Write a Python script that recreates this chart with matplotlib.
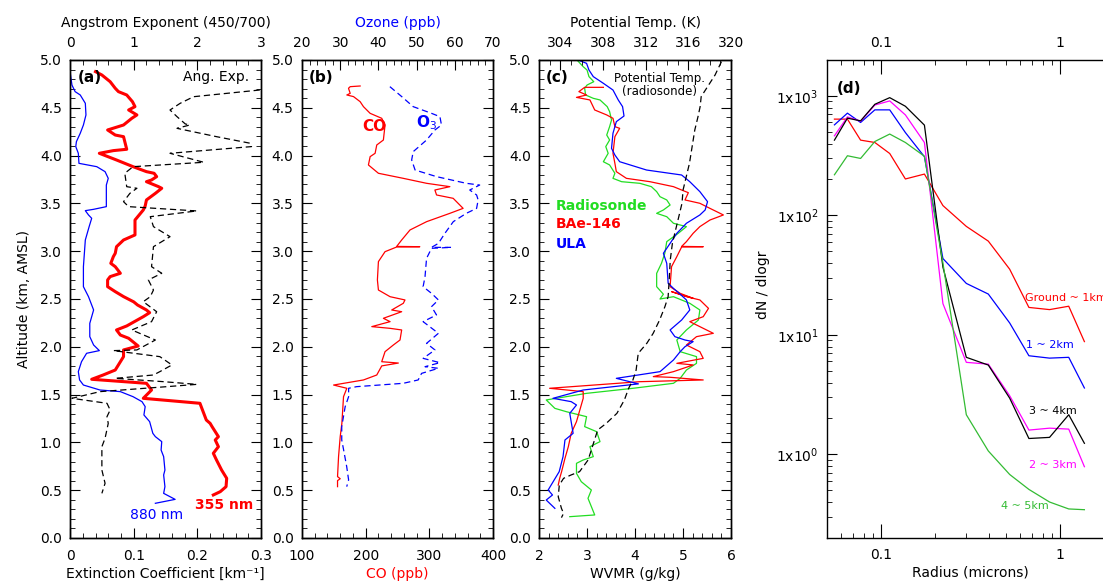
import matplotlib
matplotlib.use("Agg")
import matplotlib.pyplot as plt
from matplotlib.ticker import MultipleLocator, FixedLocator, FuncFormatter, LogLocator, NullFormatter

# ---------------- data: panel (a) ----------------
ext355 = [0.040, 0.050, 0.063, 0.071, 0.076, 0.089, 0.098, 0.102, 0.092, 0.105, 0.097, 0.084, 0.059,
          0.071, 0.084, 0.089, 0.068, 0.046, 0.073, 0.099, 0.120, 0.132, 0.136, 0.128, 0.120, 0.139,
          0.144, 0.134, 0.120, 0.118, 0.115, 0.102, 0.102, 0.102, 0.084, 0.073, 0.071, 0.068, 0.064,
          0.071, 0.079, 0.063, 0.059, 0.059, 0.071, 0.084, 0.100, 0.106, 0.120, 0.125, 0.115, 0.089,
          0.073, 0.079, 0.092, 0.107, 0.084, 0.084, 0.071, 0.052, 0.034, 0.120, 0.128, 0.115, 0.204,
          0.207, 0.214, 0.220, 0.223, 0.233, 0.228, 0.233, 0.225, 0.230, 0.238, 0.246, 0.245, 0.236,
          0.225]
alt355 = [4.878, 4.843, 4.773, 4.704, 4.669, 4.634, 4.564, 4.512, 4.477, 4.425, 4.390, 4.320, 4.268,
          4.215, 4.198, 4.066, 4.052, 4.024, 3.954, 3.884, 3.832, 3.815, 3.780, 3.745, 3.727, 3.675,
          3.658, 3.605, 3.536, 3.473, 3.431, 3.326, 3.222, 3.170, 3.117, 3.047, 2.978, 2.943, 2.873,
          2.838, 2.769, 2.734, 2.699, 2.629, 2.577, 2.525, 2.470, 2.437, 2.385, 2.357, 2.315, 2.218,
          2.176, 2.123, 2.089, 2.008, 1.967, 1.897, 1.757, 1.705, 1.660, 1.618, 1.548, 1.461, 1.409,
          1.356, 1.234, 1.199, 1.165, 1.060, 1.025, 0.955, 0.886, 0.816, 0.711, 0.624, 0.537, 0.485,
          0.450]

ext880 = [0.000, 0.003, 0.008, 0.016, 0.024, 0.025, 0.021, 0.016, 0.010, 0.009, 0.013, 0.014, 0.042,
          0.055, 0.060, 0.057, 0.057, 0.037, 0.024, 0.029, 0.034, 0.030, 0.024, 0.021, 0.021, 0.029,
          0.037, 0.031, 0.031, 0.037, 0.046, 0.026, 0.018, 0.013, 0.015, 0.021, 0.047, 0.079, 0.099,
          0.113, 0.118, 0.116, 0.125, 0.130, 0.134, 0.144, 0.143, 0.147, 0.149, 0.147, 0.149, 0.147,
          0.165, 0.134]
alt880 = [4.878, 4.738, 4.669, 4.634, 4.547, 4.425, 4.320, 4.233, 4.146, 4.094, 4.024, 3.919, 3.884,
          3.832, 3.762, 3.692, 3.466, 3.438, 3.424, 3.379, 3.344, 3.257, 3.117, 2.838, 2.629, 2.524,
          2.385, 2.245, 2.106, 2.019, 1.960, 1.932, 1.844, 1.740, 1.653, 1.600, 1.548, 1.531, 1.478,
          1.426, 1.374, 1.287, 1.217, 1.095, 1.060, 1.008, 0.920, 0.851, 0.711, 0.659, 0.537, 0.467,
          0.404, 0.363]

ang_exp = [2.98, 1.94, 1.73, 1.57, 1.68, 1.81, 1.88, 1.68, 2.30, 2.83, 2.85, 1.57, 2.10, 0.99, 0.86,
           0.89, 1.05, 0.94, 0.84, 0.92, 1.99, 1.26, 1.31, 1.57, 1.31, 1.28, 1.44, 1.23, 1.31, 1.26,
           1.15, 1.36, 1.28, 0.97, 1.34, 1.05, 0.68, 1.41, 1.60, 1.41, 1.31, 0.71, 1.47, 1.99, 1.52,
           0.47, 0.03, 0.58, 0.63, 0.58, 0.60, 0.55, 0.50, 0.50, 0.55, 0.50]
alt_ang = [4.686, 4.616, 4.547, 4.477, 4.407, 4.331, 4.320, 4.285, 4.198, 4.129, 4.094, 4.024, 3.930,
           3.884, 3.815, 3.675, 3.658, 3.605, 3.518, 3.466, 3.421, 3.361, 3.257, 3.152, 3.047, 2.838,
           2.769, 2.699, 2.594, 2.524, 2.472, 2.367, 2.263, 2.176, 2.071, 1.967, 1.960, 1.897, 1.810,
           1.740, 1.705, 1.670, 1.635, 1.607, 1.583, 1.531, 1.461, 1.409, 1.339, 1.269, 1.199, 1.043,
           0.955, 0.711, 0.572, 0.467]

# ---------------- data: panel (b) ----------------
co_ppb = [191.3, 175.7, 173.0, 175.7, 170.4, 180.9, 191.3, 196.5, 207.0, 225.2, 230.4, 227.8, 217.4,
          214.8, 207.0, 204.3, 220.0, 259.1, 295.7, 332.2, 308.7, 311.3, 337.4, 353.0, 332.2, 295.7,
          269.6, 256.5, 248.7, 285.0, 248.7, 230.4, 220.0, 218.4, 220.0, 238.3, 261.7, 259.1, 240.9,
          256.5, 227.8, 238.3, 209.6, 238.3, 256.5, 253.9, 243.5, 230.4, 225.2, 251.3, 225.2, 217.4,
          196.5, 149.6, 170.4, 165.2, 162.6, 160.0, 157.4, 155.8, 160.0, 155.8, 155.8]
alt_co = [4.728, 4.721, 4.704, 4.651, 4.634, 4.617, 4.564, 4.512, 4.442, 4.390, 4.320, 4.163, 4.111,
          4.024, 3.989, 3.902, 3.815, 3.762, 3.710, 3.675, 3.640, 3.588, 3.553, 3.448, 3.396, 3.309,
          3.222, 3.117, 3.050, 3.047, 3.044, 2.995, 2.891, 2.699, 2.594, 2.524, 2.490, 2.455, 2.385,
          2.367, 2.298, 2.263, 2.211, 2.193, 2.176, 2.071, 2.019, 1.949, 1.844, 1.830, 1.800, 1.705,
          1.653, 1.600, 1.566, 1.478, 1.199, 1.060, 0.851, 0.642, 0.620, 0.600, 0.537]

ozone = [43.0, 46.1, 49.1, 53.9, 56.1, 56.5, 54.8, 52.6, 49.1, 48.7, 49.6, 55.2, 63.0, 66.5, 63.9,
         65.7, 66.1, 65.7, 63.0, 59.6, 57.4, 55.7, 53.9, 59.1, 53.9, 52.6, 52.2, 51.7, 53.9, 55.7,
         53.9, 55.2, 51.7, 55.7, 52.6, 54.8, 51.7, 56.1, 52.2, 55.7, 51.3, 50.4, 46.5, 34.3, 32.2,
         32.2, 31.3, 30.4, 30.4, 30.9, 31.7, 32.2, 31.7]
alt_o3 = [4.721, 4.617, 4.512, 4.442, 4.407, 4.320, 4.268, 4.163, 4.041, 3.954, 3.849, 3.780, 3.710,
          3.692, 3.640, 3.588, 3.536, 3.448, 3.396, 3.309, 3.187, 3.082, 3.040, 3.040, 3.030, 2.925,
          2.734, 2.629, 2.559, 2.490, 2.420, 2.333, 2.263, 2.141, 2.036, 1.967, 1.879, 1.834, 1.792,
          1.775, 1.722, 1.653, 1.618, 1.583, 1.566, 1.478, 1.374, 1.165, 1.025, 0.920, 0.746, 0.607,
          0.537]

# ---------------- data: panel (c) ----------------
theta = [319.1, 318.5, 317.7, 317.2, 317.1, 316.9, 316.6, 316.3, 316.1, 315.8, 315.5, 315.4, 315.1,
         314.8, 314.5, 314.3, 314.2, 314.1, 313.8, 313.3, 312.7, 312.1, 311.3, 311.1, 310.8, 310.4,
         310.0, 309.3, 308.3, 307.5, 307.2, 306.9, 306.6, 305.8, 305.0, 304.3, 303.9, 303.8, 304.1,
         304.3, 304.1]
alt_theta = [4.983, 4.843, 4.704, 4.617, 4.512, 4.407, 4.268, 4.059, 3.919, 3.780, 3.640, 3.501, 3.361,
             3.222, 3.082, 2.908, 2.699, 2.524, 2.420, 2.280, 2.141, 2.036, 1.932, 1.757, 1.653, 1.566,
             1.444, 1.304, 1.199, 1.130, 1.025, 0.920, 0.816, 0.694, 0.659, 0.624, 0.554, 0.432, 0.310,
             0.258, 0.213]

wv_sonde = [2.79, 2.92, 3.00, 3.04, 3.14, 3.00, 2.95, 2.97, 3.13, 3.27, 3.42, 3.47, 3.51, 3.47, 3.41,
            3.47, 3.39, 3.44, 3.34, 3.47, 3.58, 3.54, 3.72, 4.10, 4.34, 4.45, 4.52, 4.66, 4.73, 4.59,
            4.45, 4.66, 4.80, 5.07, 4.90, 4.66, 4.62, 4.55, 4.45, 4.45, 4.59, 4.52, 4.80, 5.14, 5.35,
            5.32, 5.07, 4.87, 4.94, 5.28, 5.28, 5.07, 4.94, 4.80, 3.96, 2.99, 2.15, 2.33, 2.57, 2.99,
            2.95, 3.20, 3.27, 3.06, 3.13, 2.92, 2.78, 2.78, 2.88, 3.09, 3.02, 3.16, 2.64]
alt_sonde = [5.000, 4.930, 4.895, 4.826, 4.773, 4.738, 4.704, 4.634, 4.599, 4.582, 4.512, 4.460, 4.372,
             4.303, 4.215, 4.163, 4.094, 4.024, 3.936, 3.902, 3.815, 3.762, 3.727, 3.710, 3.675, 3.623,
             3.570, 3.536, 3.483, 3.431, 3.396, 3.361, 3.292, 3.257, 3.187, 3.100, 2.978, 2.873, 2.768,
             2.629, 2.550, 2.500, 2.524, 2.455, 2.385, 2.280, 2.176, 2.071, 1.949, 1.897, 1.827, 1.757,
             1.670, 1.618, 1.566, 1.513, 1.444, 1.356, 1.321, 1.269, 1.165, 1.112, 1.008, 0.955, 0.851,
             0.816, 0.781, 0.676, 0.589, 0.502, 0.415, 0.241, 0.223]

wv_bae = [3.34, 2.95, 2.83, 2.99, 2.78, 3.06, 3.16, 3.41, 3.54, 3.58, 3.68, 3.58, 3.54, 3.58, 3.61,
          3.82, 4.31, 4.80, 4.97, 5.11, 5.04, 5.35, 5.56, 5.84, 5.56, 5.35, 5.21, 5.07, 4.97, 5.42,
          4.97, 4.87, 4.76, 4.73, 4.94, 5.21, 4.76, 5.07, 5.35, 5.53, 5.42, 5.14, 5.63, 5.28, 5.07,
          5.35, 5.42, 4.87, 5.21, 4.80, 4.38, 4.73, 5.42, 4.10, 2.22, 2.92, 2.92, 2.85, 2.78, 2.67,
          2.61, 2.54, 2.47, 2.43, 2.40]
alt_bae = [4.714, 4.714, 4.669, 4.634, 4.609, 4.582, 4.477, 4.425, 4.390, 4.303, 4.285, 4.198, 4.024,
           3.919, 3.832, 3.762, 3.727, 3.675, 3.640, 3.612, 3.536, 3.501, 3.448, 3.379, 3.326, 3.257,
           3.187, 3.100, 3.050, 3.047, 3.044, 2.943, 2.838, 2.629, 2.559, 2.507, 2.577, 2.524, 2.490,
           2.402, 2.315, 2.263, 2.141, 2.106, 2.019, 1.949, 1.879, 1.827, 1.810, 1.740, 1.688, 1.681,
           1.653, 1.635, 1.566, 1.531, 1.461, 1.339, 1.217, 1.095, 0.955, 0.833, 0.694, 0.624, 0.554]

wv_ula = [2.81, 2.99, 3.04, 3.13, 3.34, 3.54, 3.65, 3.74, 3.77, 3.61, 3.54, 3.51, 3.58, 3.68, 4.24,
          4.97, 5.14, 5.35, 5.51, 5.46, 5.35, 5.07, 4.87, 4.73, 4.59, 4.66, 4.69, 4.80, 4.94, 5.07,
          5.14, 4.97, 4.73, 4.83, 5.04, 5.21, 5.04, 4.94, 4.80, 4.52, 3.61, 4.07, 2.92, 2.29, 2.67,
          2.78, 2.64, 2.71, 2.54, 2.50, 2.42, 2.19, 2.28, 2.15, 2.33]
alt_ula = [5.000, 4.965, 4.895, 4.826, 4.756, 4.686, 4.582, 4.512, 4.414, 4.355, 4.233, 4.076, 4.006,
           3.936, 3.849, 3.797, 3.727, 3.623, 3.518, 3.431, 3.379, 3.292, 3.187, 3.082, 2.978, 2.873,
           2.664, 2.611, 2.550, 2.490, 2.385, 2.280, 2.176, 2.106, 2.071, 2.054, 2.001, 1.949, 1.862,
           1.740, 1.670, 1.612, 1.548, 1.461, 1.426, 1.391, 1.304, 1.095, 1.025, 0.851, 0.694, 0.502,
           0.450, 0.397, 0.310]

# ---------------- data: panel (d) ----------------
radius = [0.055, 0.065, 0.077, 0.0925, 0.112, 0.137, 0.175, 0.222, 0.300, 0.398, 0.524, 0.671, 0.875, 1.12, 1.37]
dn_ground = [640, 640, 427, 408, 330, 202, 222, 121, 81, 61, 35.5, 17, 16.3, 17.4, 8.8]
dn_1_2 = [573, 718, 600, 765, 765, 494, 310, 43.6, 27, 22, 12.6, 6.7, 6.4, 6.5, 3.6]
dn_2_3 = [464, 668, 615, 840, 909, 694, 408, 18.3, 5.9, 5.7, 3.1, 1.6, 1.66, 1.63, 0.79]
dn_3_4 = [427, 652, 619, 852, 968, 820, 570, 37, 6.5, 5.6, 2.96, 1.36, 1.39, 2.15, 1.24]
dn_4_5 = [219, 316, 300, 416, 480, 408, 313, 40, 2.15, 1.07, 0.68, 0.51, 0.40, 0.35, 0.345]

RED = "#ff0000"
BLUE = "#0000ff"
GREEN = "#22dd22"
DASH = (0, (5, 3))

plt.rcParams["font.size"] = 10
plt.rcParams["axes.linewidth"] = 1.0
plt.rcParams["xtick.direction"] = "in"
plt.rcParams["ytick.direction"] = "in"
plt.rcParams["xtick.major.size"] = 7
plt.rcParams["ytick.major.size"] = 7
plt.rcParams["xtick.minor.size"] = 3.5
plt.rcParams["ytick.minor.size"] = 3.5
plt.rcParams["xtick.major.pad"] = 8
plt.rcParams["ytick.major.pad"] = 6

fig = plt.figure(figsize=(11.03, 5.83), dpi=100)

bottom, height = 0.0772, 0.8199
ax_a = fig.add_axes([0.0635, bottom, 0.1732, height])
ax_b = fig.add_axes([0.2738, bottom, 0.1732, height])
ax_c = fig.add_axes([0.4887, bottom, 0.1741, height])
ax_d = fig.add_axes([0.7498, bottom, 0.2600, height])


def num_fmt(v, _):
    if abs(v) < 1e-9:
        return "0"
    return f"{v:g}"


def setup_profile(ax, xlim, xmaj, xmin, top_lim, top_maj, top_min):
    ax.set_ylim(0, 5)
    ax.set_xlim(*xlim)
    ax.yaxis.set_major_locator(MultipleLocator(0.5))
    ax.yaxis.set_minor_locator(MultipleLocator(0.1))
    ax.yaxis.set_major_formatter(FuncFormatter(lambda v, _: f"{v:.1f}"))
    ax.xaxis.set_major_locator(MultipleLocator(xmaj))
    ax.xaxis.set_minor_locator(MultipleLocator(xmin))
    ax.xaxis.set_major_formatter(FuncFormatter(num_fmt))
    ax.tick_params(axis="y", which="both", left=True, right=True)
    ax.tick_params(axis="x", which="both", top=False, bottom=True)
    tw = ax.twiny()
    tw.set_xlim(*top_lim)
    tw.xaxis.set_major_locator(MultipleLocator(top_maj))
    tw.xaxis.set_minor_locator(MultipleLocator(top_min))
    tw.xaxis.set_major_formatter(FuncFormatter(num_fmt))
    tw.tick_params(axis="x", which="both", top=True, bottom=False, direction="in")
    tw.tick_params(axis="x", which="major", pad=7)
    return tw


# ---- (a) ----
tw_a = setup_profile(ax_a, (0, 0.3), 0.1, 0.02, (0, 3), 1, 0.2)
ax_a.plot(ext880, alt880, color=BLUE, lw=0.9)
ax_a.plot(ext355, alt355, color=RED, lw=2.2)
tw_a.plot(ang_exp, alt_ang, color="black", lw=0.9, linestyle=DASH)
ax_a.set_ylabel("Altitude (km, AMSL)", labelpad=6)
ax_a.set_xlabel("Extinction Coefficient [km⁻¹]", labelpad=3)
tw_a.set_xlabel("Angstrom Exponent (450/700)", labelpad=7)
ax_a.text(0.012, 4.82, "(a)", fontsize=11, fontweight="bold", va="center")
ax_a.text(0.282, 4.82, "Ang. Exp.", fontsize=10, ha="right", va="center")
ax_a.text(0.094, 0.24, "880 nm", color=BLUE, fontsize=10, ha="left", va="center")
ax_a.text(0.197, 0.35, "355 nm", color=RED, fontsize=10, fontweight="bold", ha="left", va="center")

# ---- (b) ----
tw_b = setup_profile(ax_b, (100, 400), 100, 20, (20, 70), 10, 2)
ax_b.plot(co_ppb, alt_co, color=RED, lw=0.9)
tw_b.plot(ozone, alt_o3, color=BLUE, lw=0.9, linestyle=DASH)
ax_b.set_xlabel("CO (ppb)", color=RED, labelpad=3)
tw_b.set_xlabel("Ozone (ppb)", color=BLUE, labelpad=7)
ax_b.text(110, 4.82, "(b)", fontsize=11, fontweight="bold", va="center")
ax_b.text(213, 4.3, "CO", color=RED, fontsize=11, fontweight="bold", ha="center", va="center")
ax_b.text(295, 4.34, "O$_3$", color=BLUE, fontsize=11, fontweight="bold", ha="center", va="center")

# ---- (c) ----
tw_c = setup_profile(ax_c, (2, 6), 1, 0.2, (302, 320), 4, 1)
ax_c.plot(wv_sonde, alt_sonde, color=GREEN, lw=0.9)
ax_c.plot(wv_bae, alt_bae, color=RED, lw=0.9)
ax_c.plot(wv_ula, alt_ula, color=BLUE, lw=0.9)
tw_c.plot(theta, alt_theta, color="black", lw=0.9, linestyle=DASH)
ax_c.set_xlabel("WVMR (g/kg)", labelpad=3)
tw_c.set_xlabel("Potential Temp. (K)", labelpad=7)
ax_c.text(2.15, 4.82, "(c)", fontsize=11, fontweight="bold", va="center")
ax_c.text(4.5, 4.74, "Potential Temp.\n(radiosonde)", fontsize=8.5, ha="center", va="center",
          linespacing=1.0)
ax_c.text(2.35, 3.47, "Radiosonde", color=GREEN, fontsize=10, fontweight="bold", va="center")
ax_c.text(2.35, 3.28, "BAe-146", color=RED, fontsize=10, fontweight="bold", va="center")
ax_c.text(2.35, 3.07, "ULA", color=BLUE, fontsize=10, fontweight="bold", va="center")

# ---- (d) ----
ax_d.set_xscale("log")
ax_d.set_yscale("log")
ax_d.set_xlim(0.05, 2)
ax_d.set_ylim(0.2, 2000)
ax_d.plot(radius, dn_ground, color=RED, lw=0.9)
ax_d.plot(radius, dn_1_2, color=BLUE, lw=0.9)
ax_d.plot(radius, dn_2_3, color="#ff00ff", lw=0.9)
ax_d.plot(radius, dn_3_4, color="black", lw=0.9)
ax_d.plot(radius, dn_4_5, color="#33bb33", lw=0.9)
ax_d.xaxis.set_major_locator(FixedLocator([0.1, 1]))
ax_d.xaxis.set_major_formatter(FuncFormatter(lambda v, _: f"{v:g}"))
ax_d.xaxis.set_minor_locator(LogLocator(base=10, subs=range(2, 10)))
ax_d.xaxis.set_minor_formatter(NullFormatter())
ax_d.yaxis.set_major_locator(FixedLocator([1, 10, 100, 1000]))
ax_d.yaxis.set_major_formatter(
    FuncFormatter(lambda v, _: r"$\mathregular{1x10^{%d}}$" % round(__import__("math").log10(v))))
ax_d.yaxis.set_minor_locator(LogLocator(base=10, subs=range(2, 10)))
ax_d.yaxis.set_minor_formatter(NullFormatter())
ax_d.tick_params(axis="x", which="both", top=True, bottom=True, labeltop=True)
ax_d.tick_params(axis="x", which="major", length=10, pad=7)
ax_d.tick_params(axis="y", which="both", left=True, right=True)
ax_d.set_xlabel("Radius (microns)", labelpad=3)
ax_d.set_ylabel("dN / dlogr", labelpad=4)
ax_d.yaxis.set_label_coords(-0.2, 0.53)
ax_d.text(0.057, 1150, "(d)", fontsize=11, fontweight="bold", va="center")
ax_d.text(0.64, 18.5, "Ground ~ 1km", color=RED, fontsize=8, va="bottom")
ax_d.text(0.65, 8.3, "1 ~ 2km", color=BLUE, fontsize=8, va="center")
ax_d.text(0.67, 2.3, "3 ~ 4km", color="black", fontsize=8, va="center")
ax_d.text(0.675, 0.82, "2 ~ 3km", color="#ff00ff", fontsize=8, va="center")
ax_d.text(0.47, 0.37, "4 ~ 5km", color="#33bb33", fontsize=8, va="center")

fig.savefig("out.png", dpi=100)
